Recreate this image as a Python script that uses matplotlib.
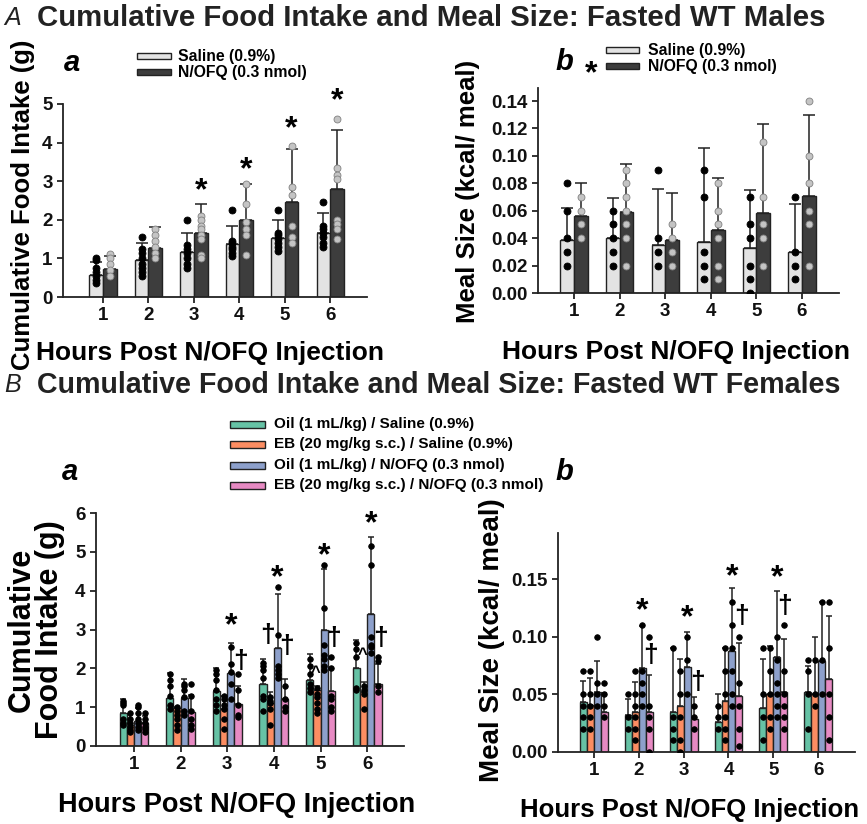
import matplotlib
matplotlib.use("Agg")
import matplotlib.pyplot as plt
from matplotlib.patches import Rectangle
import numpy as np

plt.rcParams['font.family'] = ['Liberation Sans', 'DejaVu Sans']
plt.rcParams['font.weight'] = 'bold'

W, H = 867, 824
hours = [1, 2, 3, 4, 5, 6]

# ---------------- A a: cumulative food intake, males ----------------
a_sal_mean = [0.58, 0.95, 1.17, 1.38, 1.53, 1.65]
a_sal_top = [0.90, 1.40, 1.67, 1.85, 2.00, 2.17]
a_nof_mean = [0.72, 1.27, 1.67, 2.00, 2.45, 2.80]
a_nof_top = [1.05, 1.82, 2.40, 2.93, 3.83, 4.33]
a_sal_pts = [[1.0, 0.95, 0.75, 0.65, 0.55, 0.45, 0.35],
             [1.55, 1.25, 1.15, 1.0, 0.85, 0.75, 0.65, 0.55],
             [2.0, 1.35, 1.25, 1.15, 1.0, 0.85, 0.75],
             [2.25, 1.45, 1.4, 1.3, 1.25, 1.15, 1.05],
             [2.25, 1.65, 1.6, 1.5, 1.4, 1.3, 1.2],
             [2.45, 1.85, 1.75, 1.65, 1.55, 1.4, 1.3]]
a_nof_pts = [[1.12, 1.0, 0.85, 0.7, 0.55],
             [1.75, 1.6, 1.45, 1.3, 1.15, 1.0],
             [2.1, 2.0, 1.85, 1.75, 1.6, 1.5, 1.1, 1.0],
             [2.92, 2.4, 1.95, 1.75, 1.6, 1.1],
             [3.9, 2.85, 2.65, 1.85, 1.55, 1.4],
             [4.6, 3.35, 3.15, 3.05, 2.0, 1.9, 1.75, 1.5]]
a_star_hours = [3, 4, 5, 6]
a_star_y = [2.73, 3.29, 4.35, 5.07]

# ---------------- A b: meal size, males ----------------
b_sal_mean = [0.039, 0.040, 0.035, 0.037, 0.033, 0.030]
b_sal_top = [0.062, 0.069, 0.076, 0.106, 0.075, 0.065]
b_nof_mean = [0.056, 0.059, 0.039, 0.046, 0.058, 0.071]
b_nof_top = [0.080, 0.094, 0.073, 0.084, 0.123, 0.130]
b_sal_pts = [[0.08, 0.06, 0.04, 0.03, 0.02],
             [0.06, 0.05, 0.04, 0.03, 0.02],
             [0.09, 0.04, 0.03, 0.02],
             [0.09, 0.07, 0.03, 0.02, 0.01],
             [0.07, 0.05, 0.04, 0.02, 0.01, 0.0],
             [0.07, 0.03, 0.02, 0.01]]
b_nof_pts = [[0.07, 0.06, 0.05, 0.04],
             [0.09, 0.08, 0.07, 0.06, 0.05, 0.04, 0.02],
             [0.05, 0.04, 0.03, 0.02],
             [0.08, 0.06, 0.05, 0.04, 0.02, 0.01],
             [0.11, 0.07, 0.05, 0.04, 0.02],
             [0.14, 0.10, 0.08, 0.06, 0.05, 0.02]]

# ---------------- B: females, four groups ----------------
f_groups = ['Oil (1 mL/kg) / Saline (0.9%)',
            'EB (20 mg/kg s.c.) / Saline (0.9%)',
            'Oil (1 mL/kg) / N/OFQ (0.3 nmol)',
            'EB (20 mg/kg s.c.) / N/OFQ (0.3 nmol)']
f_colors = ['#66c2a5', '#fc8d62', '#8da0cb', '#e78ac3']

# B a: cumulative intake
fa_mean = [[0.84, 1.24, 1.41, 1.59, 1.71, 2.01],
           [0.55, 0.97, 0.95, 1.10, 1.45, 1.40],
           [0.65, 1.24, 1.87, 2.53, 3.00, 3.41],
           [0.58, 0.87, 1.07, 1.22, 1.41, 1.59]]
fa_top = [[1.22, 1.87, 2.01, 2.23, 2.36, 2.74],
          [0.82, 1.00, 1.30, 1.40, 1.55, 1.65],
          [0.99, 1.73, 2.66, 3.92, 4.57, 5.37],
          [0.78, 1.31, 1.54, 1.73, 1.97, 2.10]]
fa_pts = [
    [[1.15, 1.1, 1.05, 0.7, 0.6, 0.55], [1.85, 1.7, 1.55, 1.3, 1.05, 0.95],
     [1.95, 1.85, 1.7, 1.45, 1.2, 1.05, 0.9], [2.15, 2.05, 1.95, 1.75, 1.3, 1.2, 0.9],
     [2.25, 2.05, 1.85, 1.6, 1.5, 1.4], [2.65, 2.5, 2.3, 1.5, 1.45]],
    [[0.85, 0.7, 0.6, 0.5, 0.4, 0.35], [1.0, 0.9, 0.8, 0.7, 0.55, 0.4],
     [1.3, 1.2, 1.05, 0.95, 0.7, 0.45], [1.25, 1.15, 1.1, 0.95, 0.55],
     [1.5, 1.35, 1.25, 1.1, 0.95, 0.85], [1.55, 1.45, 1.35, 0.95]],
    [[1.05, 1.0, 0.85, 0.7, 0.6, 0.5, 0.4], [1.6, 1.55, 1.45, 1.25, 0.9, 0.8],
     [2.55, 2.1, 1.9, 1.6, 1.2], [4.1, 2.85, 2.05, 1.95, 1.85, 1.75],
     [4.65, 3.55, 2.6, 2.35, 2.25, 2.05, 1.95], [5.15, 4.65, 2.8, 2.6, 2.55, 2.4]],
    [[0.85, 0.7, 0.6, 0.5, 0.45, 0.35], [1.6, 1.3, 0.9, 0.7, 0.55, 0.45],
     [1.85, 1.45, 1.05, 0.8, 0.75], [1.55, 1.2, 1.0, 0.9],
     [2.3, 2.0, 1.3, 1.2, 1.0, 0.9], [2.3, 2.2, 1.55, 1.4]]]
fa_star = [(3, 3.08), (4, 4.33), (5, 4.88), (6, 5.70)]
fa_dagger = [(3.29, 2.20), (3.86, 2.85), (4.28, 2.57), (5.29, 2.78), (6.29, 2.78)]
fa_caret = [(4.89, 1.88), (5.89, 2.36)]

# B b: meal size
fb_mean = [[0.043, 0.032, 0.035, 0.026, 0.038, 0.052],
           [0.041, 0.035, 0.040, 0.044, 0.050, 0.0505],
           [0.052, 0.073, 0.074, 0.0875, 0.082, 0.0786],
           [0.035, 0.035, 0.029, 0.0485, 0.052, 0.063]]
fb_top = [[0.062, 0.046, 0.090, 0.050, 0.081, 0.0745],
          [0.064, 0.061, 0.081, 0.090, 0.092, 0.0997],
          [0.079, 0.109, 0.104, 0.142, 0.140, 0.130],
          [0.051, 0.067, 0.048, 0.095, 0.098, 0.118]]
fb_pts = [
    [[0.07, 0.05, 0.04, 0.03, 0.02], [0.05, 0.03, 0.02], [0.09, 0.03, 0.02, 0.01],
     [0.04, 0.03, 0.02], [0.09, 0.05, 0.03, 0.01], [0.08, 0.07, 0.05, 0.02]],
    [[0.07, 0.05, 0.04, 0.03, 0.02], [0.07, 0.05, 0.04, 0.03, 0.02, 0.01],
     [0.07, 0.05, 0.03, 0.01, 0.0], [0.09, 0.07, 0.05, 0.03, 0.02, 0.01],
     [0.09, 0.07, 0.05, 0.03, 0.02], [0.08, 0.05, 0.04]],
    [[0.10, 0.06, 0.05, 0.04], [0.11, 0.07, 0.06, 0.05, 0.04],
     [0.10, 0.08, 0.05], [0.13, 0.11, 0.09, 0.07, 0.05, 0.04],
     [0.10, 0.08, 0.06, 0.05, 0.04, 0.03], [0.13, 0.08, 0.05]],
    [[0.06, 0.05, 0.04, 0.03], [0.10, 0.04, 0.03, 0.02, 0.0], [0.04, 0.03, 0.02],
     [0.10, 0.06, 0.04, 0.02, 0.005], [0.11, 0.07, 0.05, 0.04, 0.03, 0.02],
     [0.13, 0.09, 0.05, 0.03, 0.01]]]
fb_star = [(2, 0.122), (3, 0.116), (4, 0.152), (5, 0.151)]
fb_dagger = [(2.26, 0.084), (3.32, 0.061), (4.29, 0.118), (5.25, 0.127)]

fig = plt.figure(figsize=(W / 100, H / 100), dpi=100)


def box(x0, y0, x1, y1):
    return [x0 / W, 1 - y1 / H, (x1 - x0) / W, (y1 - y0) / H]


def ftext(x, y, s, **kw):
    fig.text(x / W, 1 - y / H, s, **kw)


def style(ax):
    for sp in ['top', 'right']:
        ax.spines[sp].set_visible(False)
    for sp in ['left', 'bottom']:
        ax.spines[sp].set_linewidth(1.3)
        ax.spines[sp].set_color('#222222')
    ax.tick_params(labelsize=13.5, width=1.2, length=4, colors='#111111')
    ax.set_xticks(hours)


def draw_bars(ax, xs, mean, top, pts, color, dotc, doted, ms, w):
    ax.bar(xs, mean, width=w, color=color, edgecolor='#222222', linewidth=1.0, zorder=2)
    up = np.array(top) - np.array(mean)
    ax.errorbar(xs, mean, yerr=[np.zeros(len(up)), up], fmt='none', ecolor='#222222',
                elinewidth=1.1, capsize=w * 14, capthick=1.1, zorder=1)
    for x, p in zip(xs, pts):
        ax.plot([x] * len(p), p, 'o', ms=ms, mfc=dotc, mec=doted, mew=0.6, zorder=3,
                linestyle='none')


def legend(x0, x1, ys, tx, labels, colors, fs, ph):
    for y, lab, c in zip(ys, labels, colors):
        fig.patches.append(Rectangle((x0 / W, 1 - (y + ph / 2) / H), (x1 - x0) / W, ph / H,
                                     transform=fig.transFigure, facecolor=c,
                                     edgecolor='#222222', linewidth=1.0))
        ftext(tx, y, lab, fontsize=fs, va='center', ha='left')


ftext(4, 18, 'A', fontsize=18, style='italic', weight='normal', va='center', color='#222222')
ftext(37, 18, 'Cumulative Food Intake and Meal Size: Fasted WT Males', fontsize=21.2,
      va='center', color='#222222')
ftext(4, 385, 'B', fontsize=18, style='italic', weight='normal', va='center', color='#222222')
ftext(37, 385, 'Cumulative Food Intake and Meal Size: Fasted WT Females', fontsize=20.6,
      va='center', color='#222222')

sal_c, nof_c = '#e3e3e3', '#3d3d3d'
wA = 0.30

# ---- A a ----
ax1 = fig.add_axes(box(63, 104, 367, 297))
style(ax1)
xs = np.array(hours)
draw_bars(ax1, xs - wA / 2, a_sal_mean, a_sal_top, a_sal_pts, sal_c, 'black', 'black', 5.0, wA)
draw_bars(ax1, xs + wA / 2, a_nof_mean, a_nof_top, a_nof_pts, nof_c, '#c4c4c4', '#808080', 5.0, wA)
for h, y in zip(a_star_hours, a_star_y):
    ax1.text(h + wA / 2, y, '*', fontsize=23, ha='center', va='center')
ax1.set_xlim(0.12, 6.81)
ax1.set_ylim(0, 5)
ax1.set_yticks([0, 1, 2, 3, 4, 5])
ftext(64, 63, 'a', fontsize=21, style='italic', va='center')
legend(137, 171, [56, 72], 178, ['Saline (0.9%)', 'N/OFQ (0.3 nmol)'], [sal_c, nof_c], 11.3, 6)
ftext(23, 205, 'Cumulative Food Intake (g)', fontsize=18.5, rotation=90, ha='center', va='center')
ftext(210, 353, 'Hours Post N/OFQ Injection', fontsize=19, ha='center', va='center')

# ---- A b ----
ax2 = fig.add_axes(box(538, 88, 839, 293))
style(ax2)
draw_bars(ax2, xs - wA / 2, b_sal_mean, b_sal_top, b_sal_pts, sal_c, 'black', 'black', 5.0, wA)
draw_bars(ax2, xs + wA / 2, b_nof_mean, b_nof_top, b_nof_pts, nof_c, '#c4c4c4', '#808080', 5.0, wA)
ax2.set_xlim(0.21, 6.81)
ax2.set_ylim(0, 0.1495)
ax2.set_yticks(np.arange(0, 0.141, 0.02))
ax2.set_yticklabels([f'{v:.2f}' for v in np.arange(0, 0.141, 0.02)])
ftext(555, 62, 'b', fontsize=21, style='italic', va='center')
ftext(591, 74, '*', fontsize=23, ha='center', va='center')
legend(606, 639, [50, 66], 648, ['Saline (0.9%)', 'N/OFQ (0.3 nmol)'], [sal_c, nof_c], 11.3, 6)
ftext(468, 191, 'Meal Size (kcal/ meal)', fontsize=18.5, rotation=90, ha='center', va='center')
ftext(676, 352, 'Hours Post N/OFQ Injection', fontsize=19, ha='center', va='center')

# ---- B legend ----
legend(230, 265, [424, 444, 465, 485], 274, f_groups, f_colors, 11, 7)

wB = 0.155
offs = [-1.5 * wB, -0.5 * wB, 0.5 * wB, 1.5 * wB]

# ---- B a ----
ax3 = fig.add_axes(box(96, 513, 404, 746))
style(ax3)
for g in range(4):
    draw_bars(ax3, xs + offs[g], fa_mean[g], fa_top[g], fa_pts[g], f_colors[g],
              'black', 'black', 4.0, wB)
for h, y in fa_star:
    ax3.text(h + offs[2], y, '*', fontsize=23, ha='center', va='center')
for x, y in fa_dagger:
    ax3.text(x, y, '†', fontsize=19, ha='center', va='center')
for x, y in fa_caret:
    ax3.text(x, y, '^', fontsize=12, ha='center', va='center')
ax3.set_xlim(0.185, 6.79)
ax3.set_ylim(0, 6)
ax3.set_yticks([0, 1, 2, 3, 4, 5, 6])
ftext(62, 472, 'a', fontsize=21, style='italic', va='center')
ftext(36, 630, 'Cumulative\nFood Intake (g)', fontsize=22, rotation=90, ha='center',
      va='center', linespacing=0.95)
ftext(237, 805, 'Hours Post N/OFQ Injection', fontsize=19.5, ha='center', va='center')

# ---- B b ----
ax4 = fig.add_axes(box(558, 533, 855, 752))
style(ax4)
for g in range(4):
    draw_bars(ax4, xs + offs[g], fb_mean[g], fb_top[g], fb_pts[g], f_colors[g],
              'black', 'black', 4.0, wB)
for h, y in fb_star:
    ax4.text(h + offs[2], y, '*', fontsize=23, ha='center', va='center')
for x, y in fb_dagger:
    ax4.text(x, y, '†', fontsize=19, ha='center', va='center')
ax4.set_xlim(0.2, 6.82)
ax4.set_ylim(0, 0.19)
ax4.set_yticks([0, 0.05, 0.10, 0.15])
ax4.set_yticklabels(['0.00', '0.05', '0.10', '0.15'])
ftext(555, 472, 'b', fontsize=21, style='italic', va='center')
ftext(492, 640, 'Meal Size (kcal/ meal)', fontsize=20, rotation=90, ha='center', va='center')
ftext(690, 810, 'Hours Post N/OFQ Injection', fontsize=18.5, ha='center', va='center')

fig.savefig('out.png', dpi=100)
